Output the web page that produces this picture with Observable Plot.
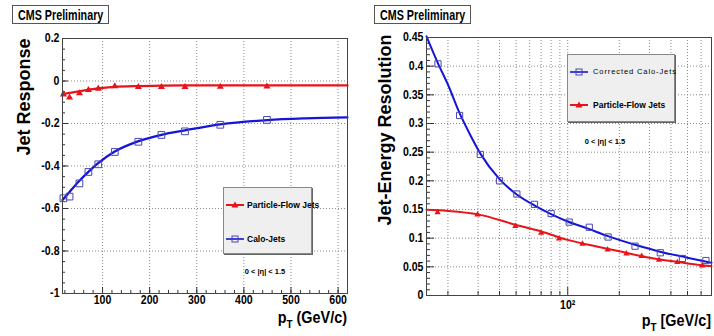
<!DOCTYPE html>
<html><head><meta charset="utf-8">
<script src="https://cdn.jsdelivr.net/npm/d3@7"></script>
<script src="https://cdn.jsdelivr.net/npm/@observablehq/plot@0.6"></script>
<style>
body{margin:0;background:#fff;}
#wrap{position:relative;width:714px;height:336px;overflow:hidden;font-family:"Liberation Sans Narrow","Liberation Sans",Arial,sans-serif;color:#000;}
#wrap svg.plotsvg{position:absolute;top:0;}
.ov{position:absolute;white-space:nowrap;font-weight:bold;line-height:1;}
.cms{border:1px solid #555;background:#fff;box-sizing:border-box;}
.cms span{position:absolute;left:5px;top:2px;font-size:14.5px;transform:scaleX(0.74);transform-origin:0 0;}
.ylab{font-family:"Liberation Sans",Arial,sans-serif;font-size:18px;transform:translate(-50%,-50%) rotate(-90deg);}
.xlab{font-size:16px;transform:scaleX(0.9);transform-origin:100% 0;}
.xlab sub{font-size:11px;vertical-align:-5px;}
.leg{background:#efefef;border:1px solid #888;box-shadow:1px 1px 0 #666;box-sizing:border-box;}
.ent{position:absolute;font-size:8.5px;display:flex;align-items:center;}
.eta{font-size:7.5px;transform:translate(-50%,-50%);}
</style></head>
<body><div id="wrap"></div>
<script>
// ---------- Left panel: Jet Response ----------
const respPt   = [17, 30, 51, 70, 91, 126, 176, 225, 275, 350, 449];
const respPF   = [-0.063, -0.078, -0.058, -0.042, -0.036, -0.025, -0.028, -0.028, -0.028, -0.027, -0.026];
const respCalo = [-0.552, -0.544, -0.482, -0.428, -0.392, -0.334, -0.286, -0.254, -0.237, -0.206, -0.183];
const respFitPt   = [15, 30, 50, 70, 90, 125, 175, 225, 275, 350, 450, 530, 620];
const respFitPF   = [-0.062, -0.056, -0.049, -0.041, -0.035, -0.028, -0.024, -0.022, -0.021, -0.021, -0.021, -0.021, -0.021];
const respFitCalo = [-0.560, -0.522, -0.472, -0.428, -0.388, -0.333, -0.284, -0.253, -0.232, -0.204, -0.184, -0.176, -0.171];
const leftYTicks = [0.2, 0, -0.2, -0.4, -0.6, -0.8, -1];
const leftYLabels = ["0.2", "0", "-0.2", "-0.4", "-0.6", "-0.8", "-1"];
const leftXTicks = [100, 200, 300, 400, 500, 600];
const leftXLabels = ["100", "200", "300", "400", "500", "600"];

// ---------- Right panel: Jet-Energy Resolution ----------
const resPtCalo = [17.5, 23.4, 30.9, 40, 50.5, 64, 80, 102, 133.6, 172, 247, 347, 467, 640];
const resCalo   = [0.404, 0.314, 0.246, 0.200, 0.177, 0.159, 0.143, 0.128, 0.119, 0.102, 0.086, 0.0745, 0.0646, 0.061];
const resPtPF = [17.4, 29.8, 49.5, 70, 89, 122, 171, 220, 270, 341, 436, 609];
const resPF   = [0.145, 0.141, 0.121, 0.109, 0.099, 0.090, 0.080, 0.073, 0.0686, 0.062, 0.058, 0.052];
const resFitPt   = [15, 17.5, 20, 23.4, 27, 31, 40, 50, 65, 80, 100, 130, 170, 250, 350, 500, 690];
const resFitCalo = [0.452, 0.405, 0.368, 0.318, 0.280, 0.247, 0.203, 0.177, 0.156, 0.142, 0.129, 0.117, 0.104, 0.088, 0.076, 0.066, 0.057];
const resFitPFPt = [15, 20, 30, 50, 70, 100, 150, 200, 300, 400, 500, 690];
const resFitPF   = [0.1495, 0.1475, 0.1415, 0.123, 0.1117, 0.097, 0.085, 0.077, 0.066, 0.060, 0.056, 0.051];
const rightYTicks = [0, 0.05, 0.1, 0.15, 0.2, 0.25, 0.3, 0.35, 0.4, 0.45];
const rightYLabels = ["0", "0.05", "0.1", "0.15", "0.2", "0.25", "0.3", "0.35", "0.4", "0.45"];
const rightXTicks = [100];
const rightXLabels = ["10²"];

const RED = "#e8141a", BLUE = "#1515d8";
const FONT = "'Liberation Sans Narrow','Liberation Sans',Arial,sans-serif";
const grid = {stroke: "#8a8a8a", strokeOpacity: 1, strokeDasharray: "1,2", strokeWidth: 1};
const pts = (xs, ys) => xs.map((x, i) => ({x, y: ys[i]}));
const lab = (ticks, labels) => { const m = new Map(ticks.map((t, i) => [t, labels[i]])); return d => m.get(d); };

// left
const LW = 357, LH = 336, lml = 62, lmr = 10, lmt = 38, lmb = 43;
const lfw = LW - lml - lmr, lfh = LH - lmt - lmb;
const leftYMinor = d3.range(-20, 5).map(i => i * 0.05);
const leftXMinor = d3.range(1, 32).map(i => i * 20);
const left = Plot.plot({
  width: LW, height: LH, marginLeft: lml, marginRight: lmr, marginTop: lmt, marginBottom: lmb,
  style: {fontFamily: FONT, fontWeight: "bold", background: "transparent", color: "#000", overflow: "visible"},
  x: {domain: [15, 620]},
  y: {domain: [-1, 0.2]},
  marks: [
    Plot.gridX(leftXTicks, grid),
    Plot.gridY(leftYTicks.slice(1, -1), grid),
    Plot.tickY(leftYMinor, {y: d => d, insetRight: lfw - 3, stroke: "#333"}),
    Plot.tickY(leftYTicks, {y: d => d, insetRight: lfw - 6, stroke: "#333"}),
    Plot.tickX(leftXMinor, {x: d => d, insetTop: lfh - 3, stroke: "#333"}),
    Plot.tickX(leftXTicks, {x: d => d, insetTop: lfh - 6, stroke: "#333"}),
    Plot.line(pts(respFitPt, respFitCalo), {x: "x", y: "y", stroke: BLUE, strokeWidth: 2.3, curve: "monotone-x"}),
    Plot.line(pts(respFitPt, respFitPF), {x: "x", y: "y", stroke: RED, strokeWidth: 2.3, curve: "monotone-x"}),
    Plot.dot(pts(respPt, respCalo), {x: "x", y: "y", symbol: "square", r: 3.8, stroke: "#4848b0", strokeWidth: 1, fill: "none"}),
    Plot.dot(pts(respPt, respPF), {x: "x", y: "y", symbol: "triangle", r: 2.6, fill: RED, stroke: "none"}),
    Plot.frame({stroke: "#444"}),
    Plot.axisY(leftYTicks, {tickSize: 0, tickPadding: 3, tickFormat: lab(leftYTicks, leftYLabels), fontSize: 12, label: null}),
    Plot.axisX(leftXTicks, {tickSize: 0, tickPadding: 2, tickFormat: lab(leftXTicks, leftXLabels), fontSize: 12, label: null})
  ]
});
left.classList.add("plotsvg");
left.style.left = "0px";

// right
const RW = 357, RH = 336, rml = 69, rmr = 3, rmt = 37, rmb = 41;
const rfw = RW - rml - rmr, rfh = RH - rmt - rmb;
const rightXMinor = [20, 30, 40, 50, 60, 70, 80, 90, 200, 300, 400, 500, 600];
const rightYMinor = d3.range(0, 46).map(i => i * 0.01);
const right = Plot.plot({
  width: RW, height: RH, marginLeft: rml, marginRight: rmr, marginTop: rmt, marginBottom: rmb,
  style: {fontFamily: FONT, fontWeight: "bold", background: "transparent", color: "#000", overflow: "visible"},
  x: {type: "log", domain: [15, 690]},
  y: {domain: [0, 0.45]},
  marks: [
    Plot.gridX(rightXMinor.concat(rightXTicks), grid),
    Plot.gridY(rightYTicks.slice(1, -1), grid),
    Plot.tickY(rightYMinor, {y: d => d, insetRight: rfw - 4, stroke: "#333"}),
    Plot.tickY(rightYTicks, {y: d => d, insetRight: rfw - 8, stroke: "#333"}),
    Plot.tickX(rightXMinor, {x: d => d, insetTop: rfh - 4, stroke: "#333"}),
    Plot.tickX(rightXTicks, {x: d => d, insetTop: rfh - 8, stroke: "#333"}),
    Plot.line(pts(resFitPt, resFitCalo), {x: "x", y: "y", stroke: BLUE, strokeWidth: 2, curve: "monotone-x"}),
    Plot.line(pts(resFitPFPt, resFitPF), {x: "x", y: "y", stroke: RED, strokeWidth: 2, curve: "monotone-x"}),
    Plot.dot(pts(resPtCalo, resCalo), {x: "x", y: "y", symbol: "square", r: 3.5, stroke: "#4848b0", strokeWidth: 1, fill: "none"}),
    Plot.dot(pts(resPtPF, resPF), {x: "x", y: "y", symbol: "triangle", r: 2.3, fill: RED, stroke: "none"}),
    Plot.frame({stroke: "#444"}),
    Plot.axisY(rightYTicks, {tickSize: 0, tickPadding: 3, tickFormat: lab(rightYTicks, rightYLabels), fontSize: 12, label: null}),
    Plot.axisX(rightXTicks, {tickSize: 0, tickPadding: 5, tickFormat: lab(rightXTicks, rightXLabels), fontSize: 12, label: null})
  ]
});
right.classList.add("plotsvg");
right.style.left = "357px";

const wrap = document.getElementById("wrap");
wrap.appendChild(left);
wrap.appendChild(right);

// condense the axis tick labels slightly (ROOT narrow look), keeping anchors in place
d3.selectAll("#wrap svg.plotsvg g[aria-label$='tick label'] text").each(function() {
  const t = this.getAttribute("transform") || "";
  this.setAttribute("transform", t + " scale(0.88,1)");
});

function ov(html, css, cls) {
  const d = document.createElement("div");
  d.className = "ov " + (cls || "");
  d.innerHTML = html;
  Object.assign(d.style, css);
  wrap.appendChild(d);
  return d;
}
const tri = c => `<svg width="20" height="8"><line x1="1" y1="4" x2="19" y2="4" stroke="${c}" stroke-width="2"/><path d="M10,0.5 L13.5,6.5 L6.5,6.5 Z" fill="${c}"/></svg>`;
const sq = c => `<svg width="20" height="8"><line x1="1" y1="4" x2="19" y2="4" stroke="${c}" stroke-width="1.6"/><rect x="7" y="1" width="6" height="6" fill="none" stroke="#4848b0" stroke-width="1"/></svg>`;

// titles
ov("<span>CMS Preliminary</span>", {left: "12px", top: "5px", width: "97px", height: "19px"}, "cms");
ov("<span>CMS Preliminary</span>", {left: "374px", top: "5px", width: "97px", height: "19px"}, "cms");
// y labels
ov("Jet Response", {left: "24px", top: "97px"}, "ylab");
ov("Jet-Energy Resolution", {left: "385px", top: "130px"}, "ylab");
// x labels
ov("p<sub>T</sub> (GeV/c)", {right: (714 - 347) + "px", top: "310px"}, "xlab");
ov("p<sub>T</sub> [GeV/c]", {right: (714 - 711) + "px", top: "313px"}, "xlab");
// legends
ov("", {left: "223px", top: "187px", width: "89px", height: "67px"}, "leg");
ov(tri(RED) + "<span style='margin-left:2px'>Particle-Flow Jets</span>", {left: "225px", top: "201px"}, "ent");
ov(sq(BLUE) + "<span style='margin-left:2px'>Calo-Jets</span>", {left: "225px", top: "235px"}, "ent");
ov("0 &lt; |η| &lt; 1.5", {left: "265px", top: "272px"}, "eta");

ov("", {left: "567px", top: "54px", width: "108px", height: "68px"}, "leg");
ov(sq(BLUE) + "<span style='margin-left:4px;font-weight:normal;letter-spacing:0.9px;font-size:7.5px'>Corrected Calo-Jets</span>", {left: "569px", top: "68px"}, "ent");
ov(tri(RED) + "<span style='margin-left:4px'>Particle-Flow Jets</span>", {left: "569px", top: "101px"}, "ent");
ov("0 &lt; |η| &lt; 1.5", {left: "605px", top: "142px"}, "eta");
</script></body></html>
